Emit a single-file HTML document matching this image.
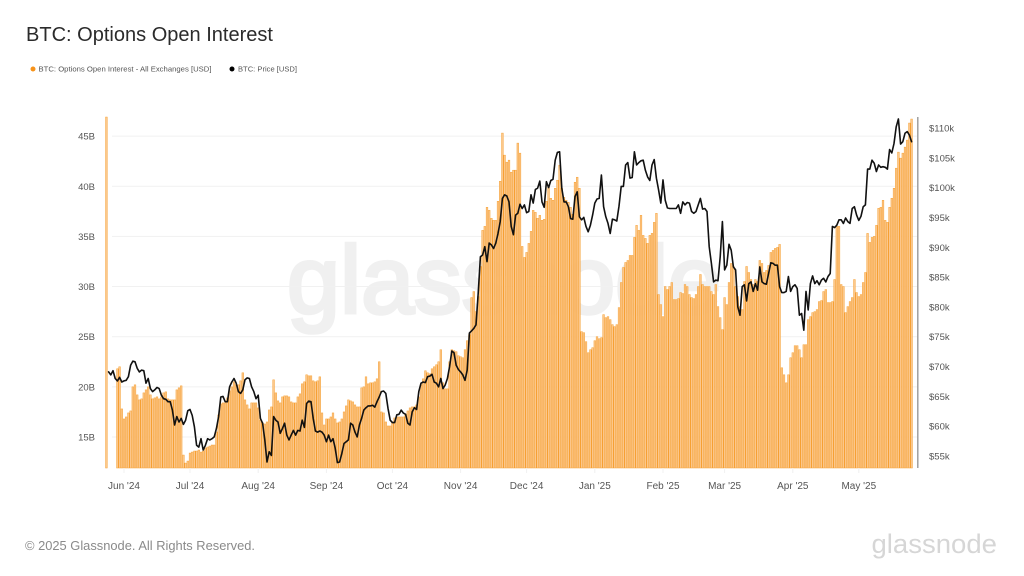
<!DOCTYPE html>
<html lang="en">
<head>
<meta charset="utf-8">
<title>BTC: Options Open Interest</title>
<style>
html,body{margin:0;padding:0;background:#fff;width:1024px;height:576px;overflow:hidden}
svg{display:block;font-family:"Liberation Sans",sans-serif}
</style>
</head>
<body>
<svg id="chart" width="1024" height="576" viewBox="0 0 1024 576" xmlns="http://www.w3.org/2000/svg">
  <text x="26" y="41" font-size="20" fill="#2b2b2b" textLength="247" lengthAdjust="spacingAndGlyphs">BTC: Options Open Interest</text>
  <circle cx="33" cy="69" r="2.5" fill="#f7931a"/>
  <text x="38.5" y="71.5" font-size="7.5" fill="#555" textLength="173" lengthAdjust="spacingAndGlyphs">BTC: Options Open Interest - All Exchanges [USD]</text>
  <circle cx="232" cy="69" r="2.5" fill="#000"/>
  <text x="238" y="71.5" font-size="7.5" fill="#555" textLength="59" lengthAdjust="spacingAndGlyphs">BTC: Price [USD]</text>
  <text x="287" y="313" font-size="96" fill="#f0f0f0" stroke="#f0f0f0" stroke-width="3.5" textLength="434" lengthAdjust="spacingAndGlyphs">glassnode</text>
  <g id="grid"></g>
  <g id="bars"></g>
  <g id="line"></g>
  <g id="axes"></g>
  <text x="25" y="550" font-size="12.5" fill="#8a8a8a" textLength="230" lengthAdjust="spacingAndGlyphs">© 2025 Glassnode. All Rights Reserved.</text>
  <text x="871.5" y="553" font-size="27" fill="#d6d6d6" textLength="125.5" lengthAdjust="spacingAndGlyphs">glassnode</text>
</svg>
<script>
const oiTickValues = [15, 20, 25, 30, 35, 40, 45];
const priceTickValues = [55, 60, 65, 70, 75, 80, 85, 90, 95, 100, 105, 110];
const monthLabels = ["Jun '24","Jul '24","Aug '24","Sep '24","Oct '24","Nov '24","Dec '24","Jan '25","Feb '25","Mar '25","Apr '25","May '25"];
const monthDates = ["2024-06-01","2024-07-01","2024-08-01","2024-09-01","2024-10-01","2024-11-01","2024-12-01","2025-01-01","2025-02-01","2025-03-01","2025-04-01","2025-05-01"];
const firstDate = "2024-05-24";
const oiValues = [46.9,null,null,null,null,
21.8,22,17.8,16.8,17,17.4,17.6,20,20.2,19.2,18.7,18.8,19.4,19.7,20,19.2,18.8,18.9,19,18.8,19,19.4,19.5,18.8,18.7,18.7,18.7,19.7,19.9,20.1,
13.2,12.4,12.6,13.4,13.5,13.6,13.6,13.7,13.5,13.6,13.9,14,14.1,14.2,14.2,15.5,17.2,18.3,18.4,18.4,18.9,19.6,20,20.5,20.2,20.2,20.6,21.4,18.7,18.2,17.8,18.4,18.4,18.4,17.9,16.7,16.4,16.3,16.5,17.7,18,20.7,19.4,18.6,18.4,19,19.1,19.1,19,18.5,18.4,18.4,19,19.3,20.3,20.5,21.2,21.1,21.1,20.6,20.5,20.6,21,17.4,16.2,16.8,16.8,17,17.4,16.8,16.4,16.5,16.8,17.5,18.1,18.7,18.6,18.5,18.2,18,18,19.9,20,21,20.3,20.4,20.4,20.5,20.8,22.5,
17.5,17.4,16.5,16.1,16.1,16.5,16.9,17,17,17,17,17.3,17.6,17.9,18,18,18.2,19,20.2,20.8,21.6,21.4,21.3,21.8,22,22.2,22.5,23.7,20.4,19.8,19.8,22.5,23.7,23.6,23.5,23.1,23,22.9,23.7,24.6,
25.2,28.9,29.5,27.5,29,32,35.6,36,37.9,37.6,36.8,36.6,36.6,38.5,40.5,45.3,43.1,42.4,42.6,41.4,41.6,41.6,44.3,43.3,34,32.9,33.4,34.3,35.5,37.6,37.4,36.8,37.1,36.6,36.7,38.5,39.9,38.8,38.6,39.8,40.6,42.1,39.8,38.9,38.6,38.4,37.9,37.2,40.4,40.9,39.8,
25.5,25.4,24.5,23.4,23.7,23.9,24.6,25,24.8,24.9,27.2,26.9,27,26.7,26.2,26,26.2,27.9,30.4,31.9,32.4,32.6,33.1,33.1,34.9,36.1,35.6,37.1,
35.1,34.8,34.3,35.1,35.3,36.4,37.3,29.2,28.2,27,30,29.7,30,30.4,28.7,28.7,28.8,29.4,29.3,30.2,30,29.2,28.9,28.8,29.2,30,31.2,30.2,30,30,30,29.5,29.2,30.2,28,26.9,25.7,28.9,28.2,30.4,32.3,32,30,29,28,27.7,30.5,32,31.4,30.7,30.2,30.7,30.5,32.6,32.3,31.4,31.6,32.1,33.4,33.6,33.8,33.9,34.2,
21.9,21.2,20.4,21.2,22.9,23.4,24.1,24.1,23.7,22.9,24.2,24.2,26.7,27,27.4,27.5,27.7,28.5,28.6,29.5,29.7,28.4,28.4,28.5,30.7,36,36,30.2,30,27.4,28,28.5,28.9,30.7,29.4,29,29.2,30.4,31.4,35.3,34.4,34.9,35,36.1,37.8,37.9,38.6,36.6,36.4,37.9,38.8,39.8,41.8,43.4,42.8,43.3,43.9,44.6,46.3,46.7];
const priceStartOffset = 1;
const priceValues = [
69.1,68.6,69.3,68,67.6,68.2,67.4,67.6,67.7,68.3,70.2,70.9,70.8,69.7,69.1,69.4,69.3,67.2,68,66.3,65.8,66.1,66.5,66.3,65.2,64.6,64.5,64.1,64.1,62.7,60.2,61.6,60.7,61.3,60.3,61,62.6,62.8,61.8,59.9,56.8,56.5,57.9,56,56.8,57.9,57.7,57.9,58.2,59.6,61.6,64.9,65,64.1,64.1,66.6,67.4,68,67.2,65.8,65.5,66.1,67.8,68.1,68,66.6,65.8,64.6,65.2,61.3,60.5,57.7,54,55.7,55.1,61.6,61,60.7,58.8,59.6,60.5,58.5,57.7,58.5,59.3,58.5,59.3,59.2,61,59.8,63.8,64.2,64.1,61.3,59.2,59,59.2,59,58.5,57.4,58.5,57.4,57.9,56.3,53.9,54,55.4,57.1,57.4,57.7,60.5,60.2,59,58.2,60.2,61.3,62.7,63.1,63.4,63.4,63.5,63.2,64.1,
64.9,65.8,65.9,65.5,63,61,60.6,60.6,61.9,62,62.7,62.2,62,60.5,60.2,62.4,63.1,62.8,65.8,67.2,67.4,67.3,68.3,68.4,68.7,67.4,67.2,66.6,68,66.3,66.9,68,70,72.6,72.3,70.2,69.5,69.1,68.6,67.7,69.4,
75.6,76,76.4,77,82.3,88.4,88.7,90.1,87.6,90.7,90.4,89.8,90.7,92.3,94.3,98.2,98.8,98.6,97.6,93.5,92.1,95.4,95.7,97.2,96.5,97.1,95.8,96,98.8,97.4,99.7,99.9,101.1,97.6,96.7,101,100,101.2,101.4,104.6,105.9,106,99.9,97.6,97.6,96.8,94.8,94.7,98.5,99.3,95.1,94.6,95,93.5,92.6,93.7,95.4,97.4,98.1,98.2,102.1,96.8,95.1,94,92.3,94.7,94.6,94.4,96.9,100.2,100.2,103.8,104.2,101.6,101.7,106,103.8,104.2,104.5,104.6,102.9,101.8,
101.2,103.8,104.7,101.6,99.6,97.4,101.3,97.9,96.6,96.5,96.5,96.5,96.5,97.1,95.7,97.6,97.1,97.5,97.4,96,95.7,96,97.1,98.2,96.4,96.5,96,90.1,87.3,84.2,84.5,84.4,88.4,94.3,86.2,87,90.5,89.5,86.7,86.2,80,78.6,83.4,83.7,81,83.9,84.2,82.6,83.9,82.8,86.7,84.2,83.9,83.8,85.6,87.4,87.3,87,87,83.4,82.4,82.4,82.6,85.1,82.6,83.4,83.7,83.1,78.6,78.9,76.1,82.6,79.5,83.9,85.2,83.9,84.4,83.7,84.5,84.8,84.2,85.1,85.6,93.5,93.3,93.7,94.6,94.6,94,94.9,94.3,94,96.5,96.8,95.4,94.5,95.2,96.8,97.1,103.1,103.1,104.6,104.1,102.7,103.8,103.4,103.5,103.4,103.1,106.4,105.8,107.4,110.2,111.5,107.3,107.7,109.1,109.4,108.8,107.7];

const NS = "http://www.w3.org/2000/svg";
const plotLeft = 112, plotRight = 917, plotTop = 117, plotBottom = 468;
const DAY_MS = 86400000;
function xOfDay(i){ return 106.4 + 2.2 * i; }
function xOfDate(s){ return xOfDay((Date.parse(s) - Date.parse(firstDate)) / DAY_MS); }
function yOi(v){ return 437 - (v - 15) * 10.03; }
function yPrice(v){ return 456 - (v - 55) * 5.964; }
function make(tag, attrs, parent, text){
  const el = document.createElementNS(NS, tag);
  for (const k in attrs) el.setAttribute(k, attrs[k]);
  if (text !== undefined) el.textContent = text;
  parent.appendChild(el);
  return el;
}
const gridG = document.getElementById("grid");
const barsG = document.getElementById("bars");
const lineG = document.getElementById("line");
const axesG = document.getElementById("axes");

oiTickValues.forEach(function(v){
  const g = make("line", {x1: plotLeft, x2: plotRight, y1: yOi(v), y2: yOi(v), stroke: "#f1f1f1", "stroke-width": 1}, gridG);
  
  
  const t = make("text", {x: 95, y: yOi(v) + 3.5, "font-size": 9.5, fill: "#555", "text-anchor": "end"}, axesG, v + "B");
  
  
});

priceTickValues.forEach(function(v){
  const t = make("text", {x: 929, y: yPrice(v) + 3.5, "font-size": 9.5, fill: "#555"}, axesG, "$" + v + "k");
  
  
});

monthLabels.forEach(function(label, i){
  const x = xOfDate(monthDates[i]);
  const tick = make("line", {x1: x, x2: x, y1: plotBottom, y2: plotBottom + 5, stroke: "#f0f0f0", "stroke-width": 1}, axesG);
  
  
  const t = make("text", {x: x, y: 489, "font-size": 10, fill: "#555", "text-anchor": "middle"}, axesG, label);
  
  
});

oiValues.forEach(function(v, i){
  if (v === null) return;
  const y = yOi(v);
  const r = make("rect", {x: xOfDay(i) - 0.85, y: y, width: 1.7, height: plotBottom - y, fill: "#fcc78c", stroke: "#f6a033", "stroke-width": 0.5}, barsG);
  
  
});

const pts = priceValues.map(function(v, i){ return xOfDay(i + priceStartOffset).toFixed(1) + "," + yPrice(v).toFixed(1); });
const priceLine = make("polyline", {points: pts.join(" "), fill: "none", stroke: "#111", "stroke-width": 1.6, "stroke-linejoin": "round", "stroke-linecap": "round"}, lineG);



const rightAxis = make("line", {x1: 917.8, x2: 917.8, y1: plotTop, y2: plotBottom, stroke: "#999", "stroke-width": 1.4}, axesG);


</script>
</body>
</html>
